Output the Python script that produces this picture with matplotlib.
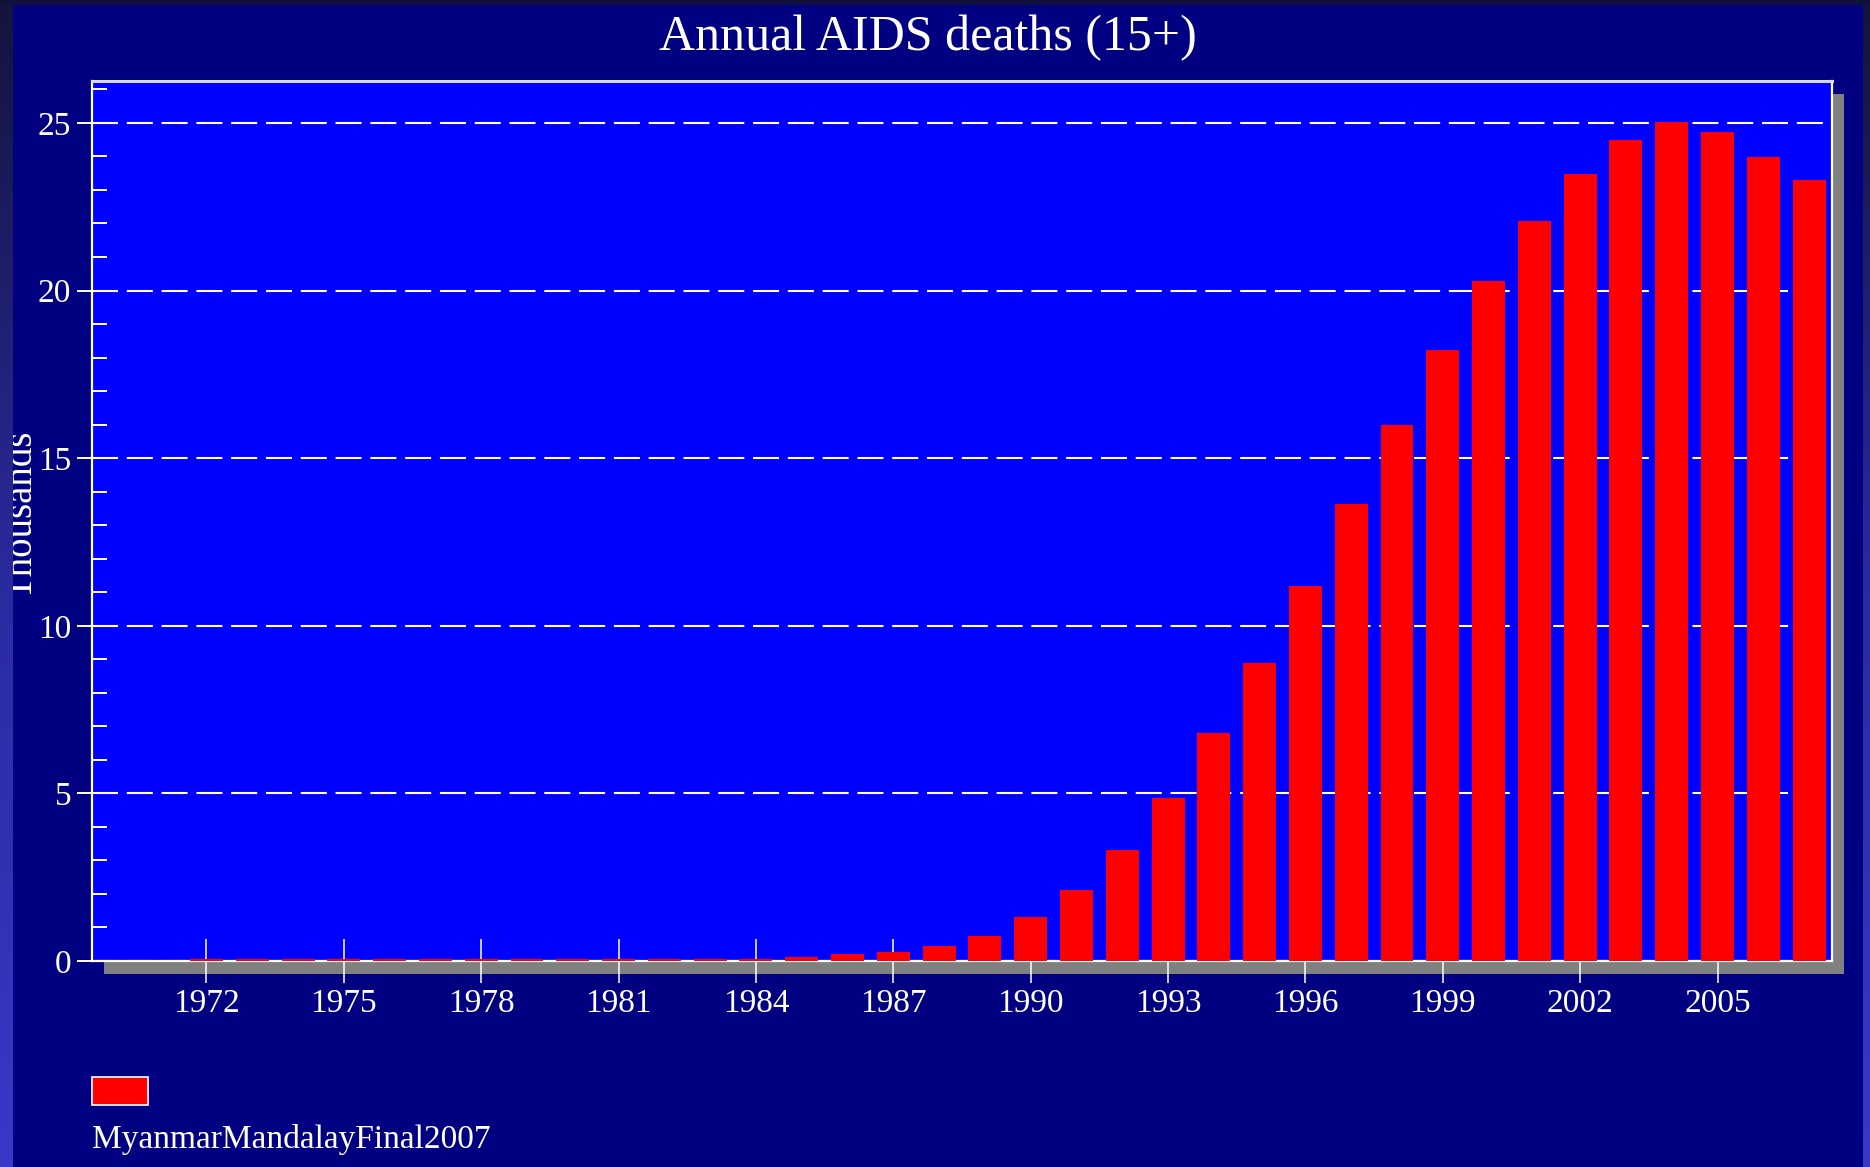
import numpy as np
import matplotlib
matplotlib.use('Agg')
import matplotlib.pyplot as plt
from matplotlib.patches import Rectangle
from matplotlib.ticker import MultipleLocator

# annual AIDS deaths (15+), thousands
years = list(range(1970, 2008))
deaths = [0, 0,
          0.05, 0.05, 0.05, 0.05, 0.05, 0.05, 0.05, 0.05, 0.05, 0.05, 0.05, 0.05, 0.05,
          0.13, 0.20, 0.27, 0.45, 0.75, 1.32, 2.13, 3.31, 4.87, 6.79, 8.89,
          11.2, 13.62, 16.0, 18.22, 20.27, 22.07, 23.49, 24.48, 25.03, 24.72,
          23.98, 23.29]
tick_years = list(range(1972, 2006, 3))
series_name = 'MyanmarMandalayFinal2007'

W, H = 1870, 1167
plt.rcParams['font.family'] = ['Liberation Serif', 'DejaVu Serif']

fig = plt.figure(figsize=(W / 100, H / 100), dpi=100, facecolor='#000080')

# plot area (pixel box -> figure fraction)
left, right, top, bottom = 92, 1832, 81, 961
ax = fig.add_axes([left / W, 1 - bottom / H, (right - left) / W, (bottom - top) / H])
ax.set_facecolor('#0000ff')

# grey drop shadow behind the plot area
dx, dy = 12, 13
shadow = Rectangle(((left + dx) / W, 1 - (bottom + dy) / H), (right - left) / W, (bottom - top) / H,
                   transform=fig.transFigure, facecolor='#808080', edgecolor='none', zorder=-1)
fig.patches.append(shadow)

x = np.arange(len(years))
ax.bar(x, deaths, width=0.72, color='#ff0000', edgecolor='none', zorder=3)

ax.set_xlim(-0.5, len(years) - 0.5)
ax.set_ylim(0, 26.25)

ax.set_xticks([years.index(y) for y in tick_years])
ax.set_xticklabels([str(y) for y in tick_years])
ax.yaxis.set_major_locator(MultipleLocator(5))
ax.yaxis.set_minor_locator(MultipleLocator(1))

ax.tick_params(axis='x', direction='inout', length=32, width=1.1, colors='white',
               labelsize=24, pad=4)
ax.tick_params(axis='y', which='major', direction='out', length=11, width=1.4,
               colors='white', labelsize=24, pad=4)
ax.tick_params(axis='y', which='minor', direction='in', length=11, width=1.4, color='white')

ax.grid(axis='y', which='major', color='white', linewidth=1.5,
        linestyle=(0, (12.5, 4.2)), zorder=1)
ax.set_axisbelow(True)

for s in ax.spines.values():
    s.set_color('white')
    s.set_linewidth(1.6)
ax.spines['top'].set_color('#d8d8ff')
ax.spines['top'].set_linewidth(2.2)

# title and axis label
fig.text(0.496, 1 - 38 / H, 'Annual AIDS deaths (15+)', color='white', fontsize=36,
         ha='center', va='center')
fig.text(22 / W, 1 - 515 / H, 'Thousands', color='white', fontsize=28,
         rotation=90, ha='center', va='center')

# legend below the chart
fig.patches.append(Rectangle((92 / W, 1 - 1105 / H), 56 / W, 28 / H, transform=fig.transFigure,
                             facecolor='#ff0000', edgecolor='white', linewidth=1.2))
fig.text(92 / W, 1 - 1148 / H, series_name, color='white', fontsize=24,
         ha='left', va='baseline')

# frame strips of the slide
grad = np.linspace(0, 1, 256).reshape(-1, 1)
from matplotlib.colors import LinearSegmentedColormap
strip_cmap = LinearSegmentedColormap.from_list('strip', ['#14143c', '#2a2aa0', '#3a38c8'])
for x0, w in [(0, 13), (1863, 7)]:
    sax = fig.add_axes([x0 / W, 0, w / W, 1], zorder=10)
    sax.imshow(grad, aspect='auto', cmap=strip_cmap, extent=(0, 1, 0, 1), origin='upper')
    sax.axis('off')
tax = fig.add_axes([0, 1 - 5 / H, 1, 5 / H], zorder=11)
tax.set_facecolor('#10103a')
tax.set_xticks([])
tax.set_yticks([])
for s in tax.spines.values():
    s.set_visible(False)

fig.savefig('out.png', dpi=100, facecolor=fig.get_facecolor())
